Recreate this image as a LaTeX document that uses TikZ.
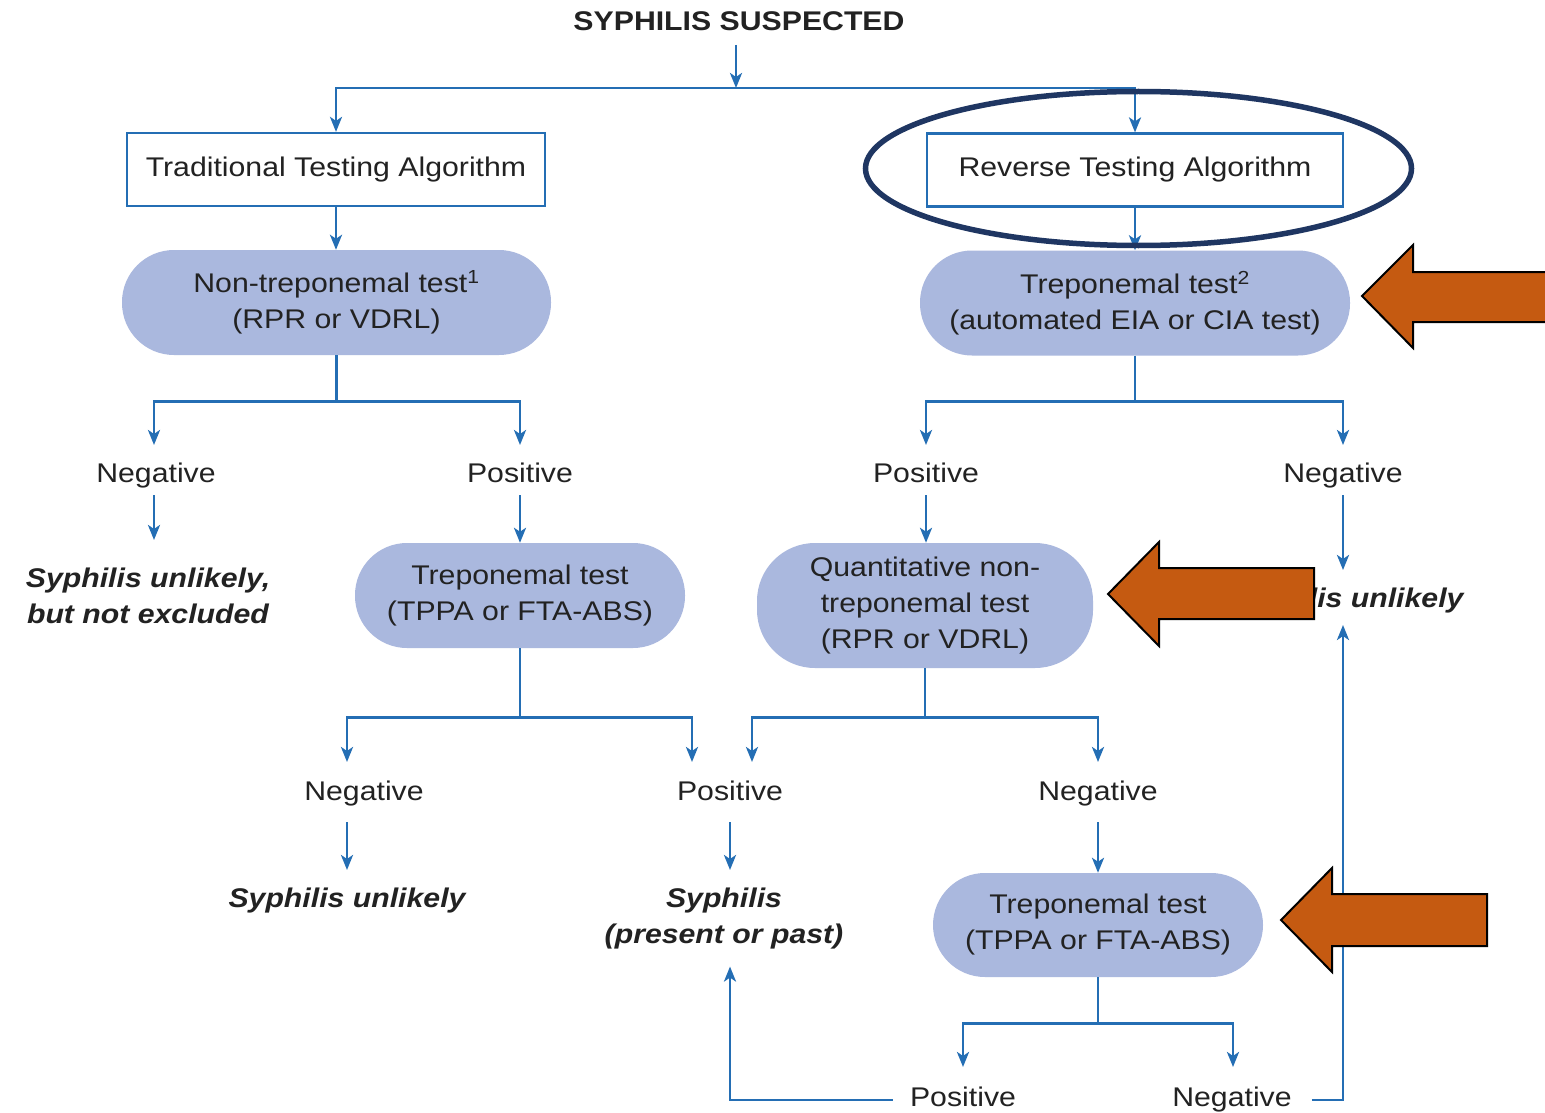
\documentclass[tikz,border=0pt]{standalone}
\usepackage{fontspec}
\setmainfont{Liberation Sans}[FakeStretch=1.12]
\usetikzlibrary{arrows.meta,calc}

\definecolor{flowblue}{RGB}{36,110,180}
\definecolor{pillfill}{RGB}{170,184,222}
\definecolor{inktext}{RGB}{34,34,34}
\definecolor{ringnavy}{RGB}{31,54,98}
\definecolor{calloutfill}{RGB}{197,90,17}

\newcommand{\flowfont}{\fontsize{27}{36}\selectfont}

\tikzset{
  conn/.style={draw=flowblue, line width=2.7pt},
  arr/.style={conn, -{Stealth[length=15pt,width=12pt,inset=4pt]}},
  txt/.style={text=inktext, font=\flowfont, inner sep=0pt},
  algbox/.style={txt, draw=flowblue, line width=2.2pt, minimum width=418pt, minimum height=73pt},
  pill/.style={txt, fill=pillfill, rounded corners=52pt, align=center, minimum height=105pt},
  lbl/.style={txt, anchor=base},
  result/.style={txt, font=\flowfont\bfseries\itshape, align=center},
  callout/.style={fill=calloutfill, draw=black, line width=2pt, line join=miter},
  ring/.style={draw=ringnavy, line width=5.5pt},
}

\begin{document}
\begin{tikzpicture}[x=1pt,y=-1pt]
\fill[white] (0,0) rectangle (1545,1113);
\useasboundingbox (0,0) rectangle (1545,1113);

% ---------- nodes ----------
\node[txt, font=\flowfont\bfseries, anchor=base] (title) at (739,31) {SYPHILIS SUSPECTED};

\node[algbox] (trad) at (336,169.5) {Traditional Testing Algorithm};
\node[algbox, minimum width=416pt] (rev) at (1135,170) {Reverse Testing Algorithm};

\node[pill, minimum width=429pt] (nt) at (336.5,302.5) {Non-treponemal test\textsuperscript{1}\\(RPR or VDRL)};
\node[pill, minimum width=430pt] (tt) at (1135,303) {Treponemal test\textsuperscript{2}\\(automated EIA or CIA test)};

\node[lbl] (negA) at (156,482) {Negative};
\node[lbl] (posA) at (520,482) {Positive};
\node[lbl] (posB) at (926,482) {Positive};
\node[lbl] (negB) at (1343,482) {Negative};

\node[result, anchor=north] (resA) at (148,568) {Syphilis unlikely,\\but not excluded};
\node[pill, minimum width=330pt] (tpA) at (520,595.5) {Treponemal test\\(TPPA or FTA-ABS)};
\node[pill, minimum width=336pt, minimum height=125pt, rounded corners=58pt] (qn) at (925,605.5) {Quantitative non-\\treponemal test\\(RPR or VDRL)};
\node[result, anchor=base] (resB) at (1345,607) {Syphilis unlikely};

\node[lbl] (negC) at (364,800) {Negative};
\node[lbl] (posC) at (730,800) {Positive};
\node[lbl] (negD) at (1098,800) {Negative};

\node[result, anchor=base] (resD) at (347,907) {Syphilis unlikely};
\node[result, anchor=north] (resC) at (724,888) {Syphilis\\(present or past)};
\node[pill, minimum width=330pt, minimum height=104pt] (tpB) at (1098,925) {Treponemal test\\(TPPA or FTA-ABS)};

\node[lbl] (posE) at (963,1106) {Positive};
\node[lbl] (negE) at (1232,1106) {Negative};

% ---------- top split ----------
\coordinate (bar) at (736,88);
\draw[arr] ($(title.base -| bar)+(0,14)$) -- (bar);
\draw[arr] (bar) -| (trad.north);
\draw[arr] (bar) -| (rev.north);
\draw[arr] (trad.south) -- (trad.south |- nt.north);
\draw[arr] (rev.south) -- (rev.south |- tt.north);

% ---------- traditional algorithm ----------
\coordinate (forkA) at ($(nt.south)+(0,46)$);
\draw[conn] (nt.south) -- (forkA);
\draw[arr] (forkA) -| ($(negA.base)+(-2,-37)$);
\draw[arr] (forkA) -| ($(posA.base)+(0,-37)$);
\draw[arr] ($(negA.base)+(-2,13)$) -- ($(negA.base |- resA.north)+(-2,-28)$);
\draw[arr] ($(posA.base)+(0,13)$) -- (posA.base |- tpA.north);

\coordinate (forkD) at ($(tpA.south)+(0,69)$);
\draw[conn] (tpA.south) -- (forkD);
\draw[arr] (forkD) -| ($(negC.base)+(-17,-38)$);
\draw[arr] (forkD) -| ($(posC.base)+(-38,-38)$);
\draw[arr] ($(resD.base |- negC.base)+(0,22)$) -- ($(resD.base)+(0,-37)$);
\draw[arr] ($(posC.base)+(0,22)$) -- ($(posC.base |- resC.north)+(0,-18)$);

% ---------- reverse algorithm ----------
\coordinate (forkB) at ($(tt.south)+(0,46)$);
\draw[conn] (tt.south) -- (forkB);
\draw[arr] (forkB) -| ($(posB.base)+(0,-37)$);
\draw[arr] (forkB) -| ($(negB.base)+(0,-37)$);
\draw[arr] ($(posB.base)+(0,13)$) -- (posB.base |- qn.north);
\draw[arr] ($(negB.base)+(0,13)$) -- ($(negB.base |- resB.base)+(0,-37)$);

\coordinate (forkC) at ($(qn.south)+(0,49)$);
\draw[conn] (qn.south) -- (forkC);
\draw[arr] (forkC) -| ($(posC.base)+(22,-38)$);
\draw[arr] (forkC) -| ($(negD.base)+(0,-38)$);
\draw[arr] ($(negD.base)+(0,22)$) -- (negD.base |- tpB.north);

\coordinate (forkE) at ($(tpB.south)+(0,46)$);
\draw[conn] (tpB.south) -- (forkE);
\draw[arr] (forkE) -| ($(posE.base)+(0,-39)$);
\draw[arr] (forkE) -| ($(negE.base)+(1,-39)$);

% loop-backs from the final treponemal test
\draw[arr] ($(posE.base west)+(-17,-6)$) -| ($(posC.base |- resC.south)+(0,17)$);
\draw[arr] ($(negE.base east)+(20,-6)$) -| ($(negB.base |- resB.base)+(0,18)$);

% ---------- highlights ----------
\draw[ring] (1138.5,168.5) ellipse [x radius=273pt, y radius=77pt];

\draw[callout] (1550,272) -- (1413,272) -- (1413,245) -- (1362,296) -- (1413,348) -- (1413,322) -- (1550,322) -- cycle;
\draw[callout] (1314,568) -- (1159,568) -- (1159,542) -- (1108,594) -- (1159,646) -- (1159,619) -- (1314,619) -- cycle;
\draw[callout] (1487,894) -- (1332,894) -- (1332,868) -- (1281,920) -- (1332,972) -- (1332,946) -- (1487,946) -- cycle;
\end{tikzpicture}
\end{document}
